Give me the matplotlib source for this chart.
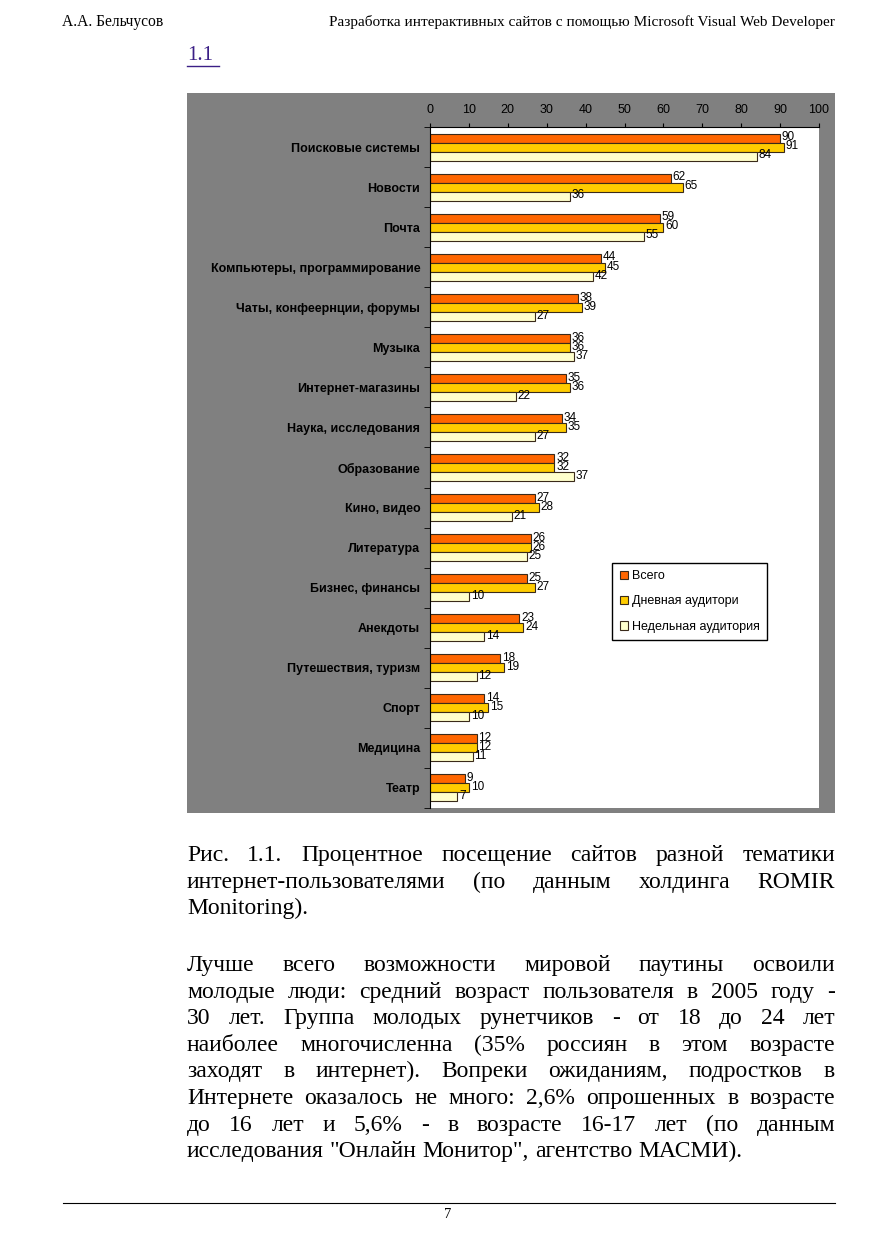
import matplotlib
matplotlib.use("Agg")
import matplotlib.pyplot as plt
import numpy as np
from matplotlib.patches import Rectangle
from matplotlib.lines import Line2D

# data
categories = ["Поисковые системы", "Новости", "Почта", "Компьютеры, программирование",
              "Чаты, конфеернции, форумы", "Музыка", "Интернет-магазины",
              "Наука, исследования", "Образование", "Кино, видео", "Литература",
              "Бизнес, финансы", "Анекдоты", "Путешествия, туризм", "Спорт",
              "Медицина", "Театр"]
total = [90, 62, 59, 44, 38, 36, 35, 34, 32, 27, 26, 25, 23, 18, 14, 12, 9]
daily = [91, 65, 60, 45, 39, 36, 36, 35, 32, 28, 26, 27, 24, 19, 15, 12, 10]
weekly = [84, 36, 55, 42, 27, 37, 22, 27, 37, 21, 25, 10, 14, 12, 10, 11, 7]
series_names = ["Всего", "Дневная аудитори", "Недельная аудитория"]
x_ticks = list(range(0, 101, 10))

colors = ["#ff6600", "#ffcc00", "#ffffcc"]
SANS = "Liberation Sans"
SERIF = "Liberation Serif"
CH = 9  # chart font size

W, H = 877, 1241
fig = plt.figure(figsize=(W / 100, H / 100), dpi=100)
fig.patch.set_facecolor("white")


def fx(px):
    return px / W


def fy(py):
    return 1 - py / H


# grey background of the chart picture
fig.add_artist(Rectangle((fx(187), fy(813)), fx(835) - fx(187), fy(93) - fy(813),
                         transform=fig.transFigure, facecolor="#808080",
                         edgecolor="none", zorder=0))

ax = fig.add_axes([fx(430), fy(808), fx(819) - fx(430), fy(127) - fy(808)])
ax.set_facecolor("white")
y = np.arange(len(categories))
h = 0.225
for k, vals in enumerate([total, daily, weekly]):
    bars = ax.barh(y + (k - 1) * h, vals, height=h, color=colors[k],
                   edgecolor="#3a2a1a", linewidth=0.8, label=series_names[k])
    for b, v in zip(bars, vals):
        ax.annotate(str(v), (v, b.get_y() + b.get_height() / 2), xytext=(1.2, 0.5),
                    textcoords="offset points", va="center", ha="left",
                    fontsize=8.5, family=SANS)

ax.set_xlim(0, 100)
ax.set_ylim(len(categories) - 0.5, -0.5)
ax.xaxis.tick_top()
ax.set_xticks(x_ticks)
ax.tick_params(axis="x", direction="out", length=3, pad=5, labelsize=CH)
for t in ax.get_xticklabels():
    t.set_family(SANS)
ax.set_yticks(y, categories, fontweight="bold", fontsize=CH, family=SANS)
ax.tick_params(axis="y", which="major", length=0, pad=7)
ax.set_yticks(np.arange(len(categories) + 1) - 0.5, minor=True)
ax.tick_params(axis="y", which="minor", length=4, direction="out")
ax.spines["right"].set_visible(False)
ax.spines["bottom"].set_visible(False)

leg = ax.legend(loc="upper left", bbox_to_anchor=(0.468, 0.360), frameon=True,
                fancybox=False, edgecolor="black", framealpha=1,
                prop={"family": SANS, "size": CH}, labelspacing=1.05,
                handlelength=0.7, handleheight=0.7, handletextpad=0.3,
                borderpad=0.6, borderaxespad=0)
leg.get_frame().set_linewidth(1)

# page header
fig.text(fx(62), fy(22), "А.А. Бельчусов", family=SERIF, fontsize=11.2, va="center")
fig.text(fx(835), fy(22), "Разработка интерактивных сайтов с помощью Microsoft Visual Web Developer",
         family=SERIF, fontsize=11, va="center", ha="right")
fig.text(fx(187), fy(55), "1.1", family=SERIF, fontsize=15, va="center", color="#3b1f86")
fig.add_artist(Line2D([fx(187), fx(219)], [fy(66), fy(66)], color="#3b1f86", lw=1))

# body text, justified by hand
renderer = fig.canvas.get_renderer()
TEXT_SIZE = 17


def put_lines(lines, y0, dy, left=187, right=835):
    for i, line in enumerate(lines):
        words = line.split()
        ypos = fy(y0 + i * dy)
        last = i == len(lines) - 1
        objs = [fig.text(0, ypos, w, family=SERIF, fontsize=TEXT_SIZE, va="baseline")
                for w in words]
        widths = [o.get_window_extent(renderer).width for o in objs]
        if last or len(words) == 1:
            space = fig.text(0, 0, "a a", family=SERIF, fontsize=TEXT_SIZE)
            aa = fig.text(0, 0, "aa", family=SERIF, fontsize=TEXT_SIZE)
            gap = space.get_window_extent(renderer).width - aa.get_window_extent(renderer).width
            space.remove()
            aa.remove()
        else:
            gap = (right - left - sum(widths)) / (len(words) - 1)
        xpos = left
        for o, w in zip(objs, widths):
            o.set_x(fx(xpos))
            xpos += w + gap


caption = ["Рис. 1.1.  Процентное посещение сайтов разной тематики",
           "интернет-пользователями (по данным холдинга ROMIR",
           "Monitoring)."]
paragraph = ["Лучше всего возможности мировой паутины освоили",
             "молодые люди: средний возраст пользователя в 2005 году -",
             "30 лет. Группа молодых рунетчиков - от 18 до 24 лет",
             "наиболее многочисленна (35% россиян в этом возрасте",
             "заходят в интернет). Вопреки ожиданиям, подростков в",
             "Интернете оказалось не много: 2,6% опрошенных в возрасте",
             "до 16 лет и 5,6% - в возрасте 16-17 лет (по данным",
             "исследования \"Онлайн Монитор\", агентство МАСМИ)."]
put_lines(caption, 861, 26.6)
put_lines(paragraph, 971, 26.6)

# footer
fig.add_artist(Line2D([fx(63), fx(835)], [fy(1203), fy(1203)], color="black", lw=0.8))
fig.text(fx(448), fy(1214), "7", family=SERIF, fontsize=10.5, va="center", ha="center")

fig.savefig("out.png", dpi=100)
